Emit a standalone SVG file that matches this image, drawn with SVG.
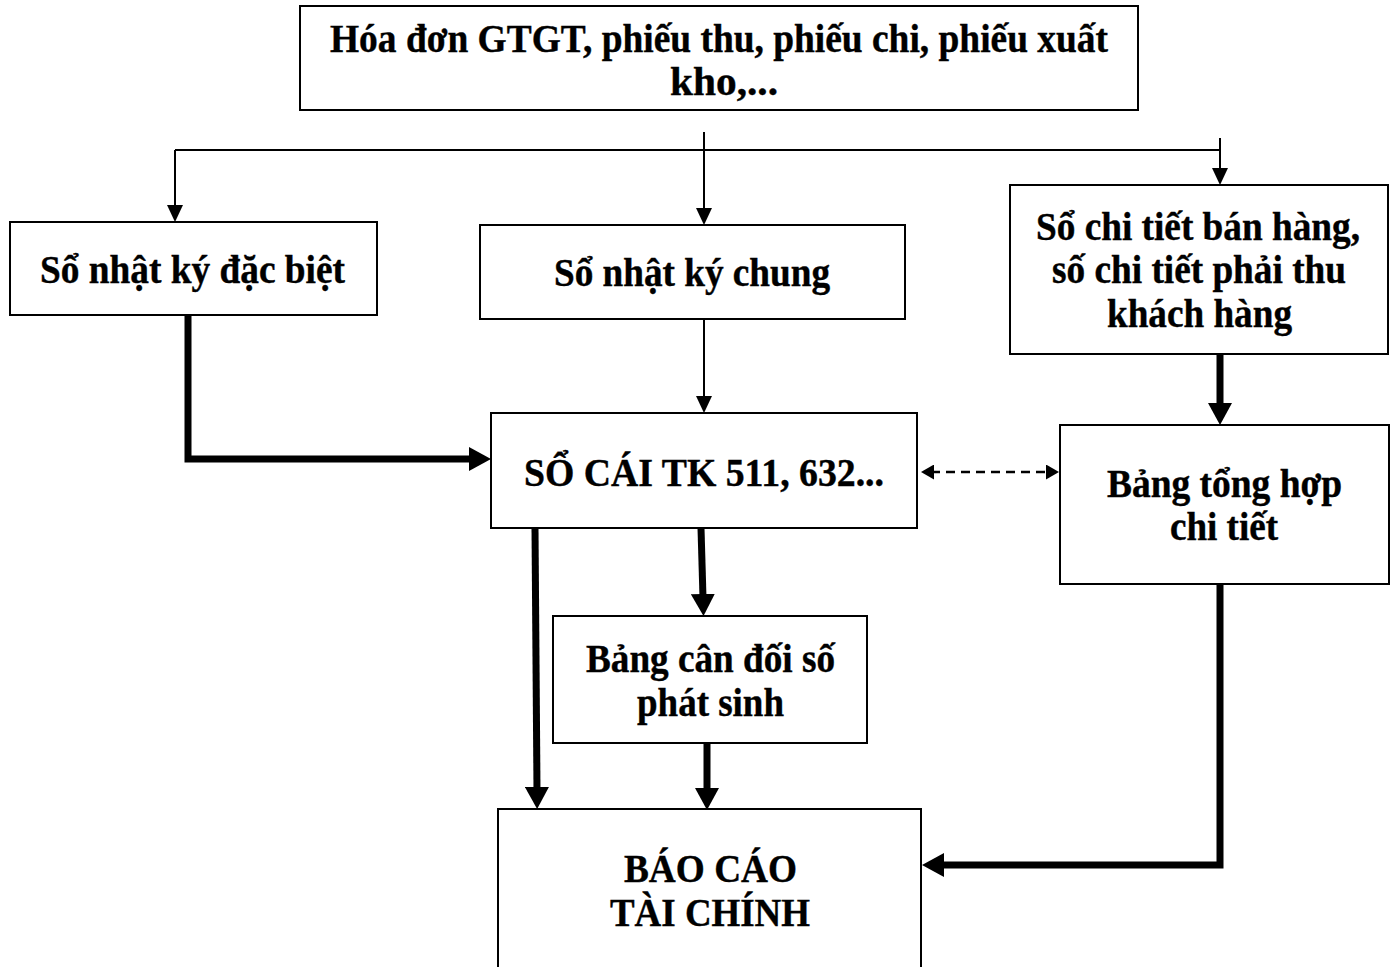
<svg xmlns="http://www.w3.org/2000/svg" width="1395" height="967" viewBox="0 0 1395 967">
<style>
.box{fill:#fff;stroke:#000;stroke-width:2}
.t{font-family:"Liberation Serif","Times New Roman",serif;font-weight:bold;font-size:39px;text-anchor:middle;fill:#000;stroke:#000;stroke-width:0.4}
.thin{fill:none;stroke:#000;stroke-width:2}
.thick{fill:none;stroke:#000;stroke-width:7;stroke-linejoin:miter}
.dash{fill:none;stroke:#000;stroke-width:2.5;stroke-dasharray:9 6}
</style>
<defs>
<marker id="aThin" markerUnits="userSpaceOnUse" markerWidth="17" markerHeight="16" refX="5" refY="8" orient="auto"><path d="M0,0 L17,8 L0,16 Z" fill="#000"/></marker>
<marker id="aThick" markerUnits="userSpaceOnUse" markerWidth="22" markerHeight="24" refX="4" refY="12" orient="auto"><path d="M0,0 L22,12 L0,24 Z" fill="#000"/></marker>
<marker id="aDash" markerUnits="userSpaceOnUse" markerWidth="13" markerHeight="15" refX="3" refY="7.5" orient="auto-start-reverse"><path d="M0,0 L13,7.5 L0,15 Z" fill="#000"/></marker>
</defs>
<rect width="1395" height="967" fill="#fff"/>
<g id="connectors">
<path class="thin" d="M175,150 H1220"/>
<path class="thin" d="M175,150 V210" marker-end="url(#aThin)"/>
<path class="thin" d="M704,132 V213" marker-end="url(#aThin)"/>
<path class="thin" d="M1220,138 V173" marker-end="url(#aThin)"/>
<path class="thin" d="M704,319 V401" marker-end="url(#aThin)"/>
<path class="thick" d="M188,315 V459 H473" marker-end="url(#aThick)"/>
<path class="thick" d="M1220,354 V407" marker-end="url(#aThick)"/>
<path class="thick" d="M701,528 L703,598" marker-end="url(#aThick)"/>
<path class="thick" d="M535,528 L537,791" marker-end="url(#aThick)"/>
<path class="thick" d="M707,743 V792" marker-end="url(#aThick)"/>
<path class="thick" d="M1220,585 V865 H940" marker-end="url(#aThick)"/>
<path class="dash" d="M931,472 H1049" marker-start="url(#aDash)" marker-end="url(#aDash)"/>
</g>
<g id="n-chungtu">
<rect class="box" x="300" y="6" width="838" height="104"/>
<text class="t" x="719" y="52" textLength="778" lengthAdjust="spacingAndGlyphs">Hóa đơn GTGT, phiếu thu, phiếu chi, phiếu xuất</text>
<text class="t" x="724" y="95" textLength="108" lengthAdjust="spacingAndGlyphs">kho,...</text>
</g>
<g id="n-nkdb">
<rect class="box" x="10" y="222" width="367" height="93"/>
<text class="t" x="192.5" y="283" textLength="305" lengthAdjust="spacingAndGlyphs">Sổ nhật ký đặc biệt</text>
</g>
<g id="n-nkc">
<rect class="box" x="480" y="225" width="425" height="94"/>
<text class="t" x="692" y="286" textLength="276" lengthAdjust="spacingAndGlyphs">Sổ nhật ký chung</text>
</g>
<g id="n-sochitiet">
<rect class="box" x="1010" y="185" width="378" height="169"/>
<text class="t" x="1198" y="240" textLength="324" lengthAdjust="spacingAndGlyphs">Sổ chi tiết bán hàng,</text>
<text class="t" x="1199" y="283" textLength="294" lengthAdjust="spacingAndGlyphs">số chi tiết phải thu</text>
<text class="t" x="1199.5" y="327" textLength="185" lengthAdjust="spacingAndGlyphs">khách hàng</text>
</g>
<g id="n-socai">
<rect class="box" x="491" y="413" width="426" height="115"/>
<text class="t" x="704" y="486" textLength="360" lengthAdjust="spacingAndGlyphs">SỔ CÁI TK 511, 632...</text>
</g>
<g id="n-tonghop">
<rect class="box" x="1060" y="425" width="329" height="159"/>
<text class="t" x="1224.5" y="497" textLength="235" lengthAdjust="spacingAndGlyphs">Bảng tổng hợp</text>
<text class="t" x="1224" y="540" textLength="108" lengthAdjust="spacingAndGlyphs">chi tiết</text>
</g>
<g id="n-cdps">
<rect class="box" x="553" y="616" width="314" height="127"/>
<text class="t" x="710.5" y="672" textLength="249" lengthAdjust="spacingAndGlyphs">Bảng cân đối số</text>
<text class="t" x="710.5" y="716" textLength="147" lengthAdjust="spacingAndGlyphs">phát sinh</text>
</g>
<g id="n-bctc">
<rect class="box" x="498" y="809" width="423" height="170"/>
<text class="t" x="710.5" y="882" textLength="173" lengthAdjust="spacingAndGlyphs">BÁO CÁO</text>
<text class="t" x="710" y="926" textLength="200" lengthAdjust="spacingAndGlyphs">TÀI CHÍNH</text>
</g>
</svg>
